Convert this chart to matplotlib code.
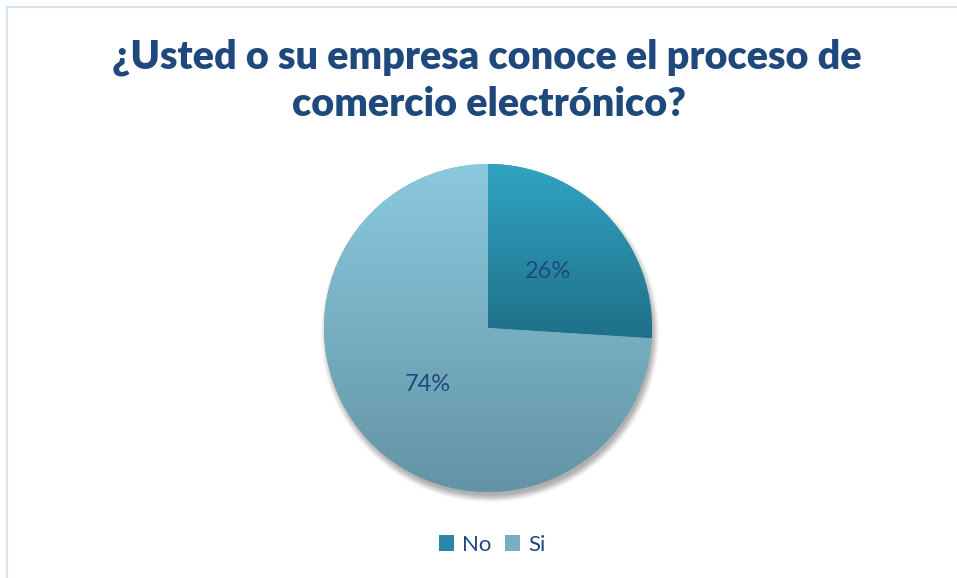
import numpy as np
import matplotlib
matplotlib.use("Agg")
import matplotlib.pyplot as plt
from matplotlib.patches import Patch, Rectangle
from matplotlib.colors import to_rgb

title = "¿Usted o su empresa conoce el proceso de\ncomercio electrónico?"
categories = ["No", "Si"]
values = [26, 74]
top_colors = ["#31A4C2", "#8BC9DF"]
bottom_colors = ["#1F7089", "#6393A5"]
mid_colors = ["#2989A5", "#77AEC2"]
text_color = "#1F497D"

W, H = 957, 578
fig = plt.figure(figsize=(W / 100, H / 100), dpi=100)
ax = fig.add_axes([0, 0, 1, 1])
ax.set_xlim(0, W)
ax.set_ylim(0, H)
ax.set_aspect("equal")
ax.axis("off")

# chart border
fig.patches.append(Rectangle((7 / W, -0.1), 1.2, (H - 6.5) / H + 0.1,
                             transform=fig.transFigure, fill=False,
                             edgecolor="#D5E2F2", linewidth=1.6))

cx, cy, R = 488, H - 328, 164

# soft shadow
xs = np.arange(cx - R - 30, cx + R + 31)
ys = np.arange(cy - R - 30, cy + R + 31)
X, Y = np.meshgrid(xs, ys)
d = np.hypot(X - (cx + 2), Y - (cy - 5))
blur = 5.0
a = np.clip((R + 2 - d) / (2 * blur) + 0.5, 0, 1)
a = a * a * (3 - 2 * a) * 0.45
rgba = np.zeros(X.shape + (4,))
rgba[..., :3] = 0.3
rgba[..., 3] = a
ax.imshow(rgba, extent=(xs[0], xs[-1], ys[0], ys[-1]), origin="lower",
          zorder=1, interpolation="bilinear")

wedges, texts, autotexts = ax.pie(
    values, center=(cx, cy), radius=R, startangle=90, counterclock=False,
    colors=mid_colors, autopct=lambda p: f"{p:.0f}%", pctdistance=0.5,
    wedgeprops=dict(linewidth=0, zorder=2),
    textprops=dict(color=text_color, family="Lato", fontsize=17))
ax.set_xlim(0, W)
ax.set_ylim(0, H)
ax.set_aspect("equal")

for w, tc, bc in zip(wedges, top_colors, bottom_colors):
    v = w.get_path().vertices
    y0, y1 = v[:, 1].min(), v[:, 1].max()
    n = 256
    t = np.linspace(0, 1, n)[:, None]
    top = np.array(to_rgb(tc))
    bot = np.array(to_rgb(bc))
    grad = bot[None, :] * (1 - t) + top[None, :] * t
    img = np.repeat(grad[:, None, :], 2, axis=1)
    im = ax.imshow(img, extent=(cx - R - 1, cx + R + 1, y0, y1), origin="lower",
                   zorder=3, interpolation="bilinear", aspect="auto")
    im.set_clip_path(w)
for t in autotexts:
    t.set_zorder(5)

ax.set_xlim(0, W)
ax.set_ylim(0, H)

# title
lines = title.split("\n")
line_y = [57, 104]
renderer = fig.canvas.get_renderer()
fs = 26
t0 = fig.text(487 / W, 1 - line_y[0] / H, lines[0], ha="center", va="center",
              family="Lato", fontweight="heavy", fontsize=fs, color=text_color)
wpx = t0.get_window_extent(renderer).width
fs = fs * 750 / wpx
t0.set_fontsize(fs)
fig.text(489 / W, 1 - line_y[1] / H, lines[1], ha="center", va="center",
         family="Lato", fontweight="heavy", fontsize=fs, color=text_color)

# legend
handles = [Patch(facecolor=c, edgecolor="none") for c in mid_colors]
fig.legend(handles, categories, loc="center", bbox_to_anchor=(492 / W, 1 - 545 / H),
           ncol=2, frameon=False, handlelength=0.7, handleheight=0.7,
           handletextpad=0.35, columnspacing=0.6,
           prop=dict(family="Lato", size=16), labelcolor=text_color)

fig.savefig("out.png", dpi=100, facecolor="white")
